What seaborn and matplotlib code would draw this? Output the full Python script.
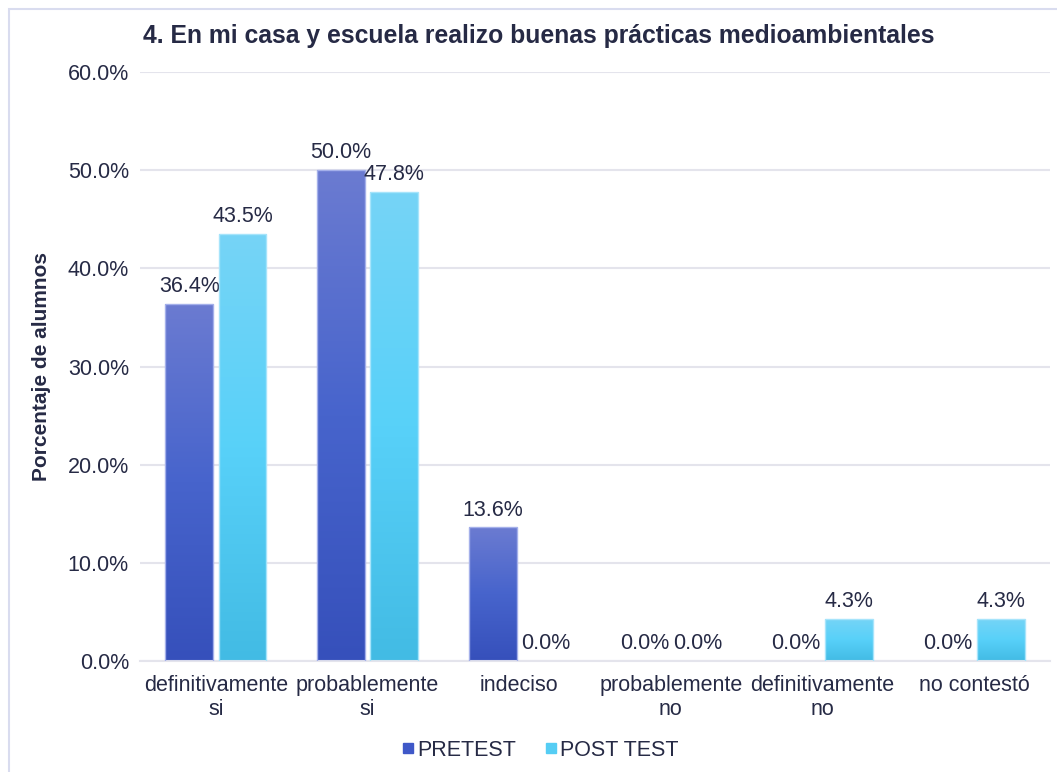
import numpy as np
import pandas as pd
import matplotlib
matplotlib.use("Agg")
import matplotlib.pyplot as plt
import seaborn as sns
from matplotlib.colors import LinearSegmentedColormap
from matplotlib.patches import Rectangle

# Data
categories = ["definitivamente\nsi", "probablemente\nsi", "indeciso",
              "probablemente\nno", "definitivamente\nno", "no contestó"]
pretest = [36.4, 50.0, 13.6, 0.0, 0.0, 0.0]
post_test = [43.5, 47.8, 0.0, 0.0, 4.3, 4.3]
series = ["PRETEST", "POST TEST"]

df = pd.DataFrame({
    "categoria": categories * 2,
    "valor": pretest + post_test,
    "grupo": [series[0]] * len(categories) + [series[1]] * len(categories),
})

sns.set_style("white")
plt.rcParams["font.family"] = ["Liberation Sans", "DejaVu Sans"]
text_color = "#262a45"

# gradient stops (top, middle, bottom) and legend colours
grad = {
    "PRETEST": ["#6b7bd1", "#4764cc", "#3650bb"],
    "POST TEST": ["#76d4f6", "#58d1f9", "#42bbe4"],
}
edge = {"PRETEST": "#a4b0ea", "POST TEST": "#a6e4fb"}
legend_col = {"PRETEST": "#3f58c8", "POST TEST": "#55cdf4"}

fig = plt.figure(figsize=(10.57, 7.72), dpi=100)
ax = fig.add_axes([0.1325, 0.1438, 0.861, 0.7629])

sns.barplot(data=df, x="categoria", y="valor", hue="grupo", order=categories,
            hue_order=series, palette=legend_col, width=0.7, gap=0.1,
            ax=ax, legend=False)

# replace flat fill with vertical gradient
for cont, name in zip(ax.containers, series):
    cmap = LinearSegmentedColormap.from_list(name, grad[name][::-1])
    g = np.linspace(0, 1, 256).reshape(-1, 1)
    for bar in cont:
        h = bar.get_height()
        x0 = bar.get_x()
        w = bar.get_width()
        bar.set_facecolor("none")
        bar.set_edgecolor("none")
        if h <= 0:
            continue
        im = ax.imshow(g, cmap=cmap, origin="lower", aspect="auto",
                       extent=[x0, x0 + w, 0, h], zorder=2)
        im.set_clip_path(bar)
        ax.add_patch(Rectangle((x0, 0), w, h, fill=False, edgecolor=edge[name],
                               lw=1, zorder=3))
    labels = [f"{v:.1f}%" for v in cont.datavalues]
    ax.bar_label(cont, labels=labels, padding=5, fontsize=15.5, color=text_color)

ax.set_xlim(-0.5, len(categories) - 0.5)
ax.set_ylim(0, 60)

# grid and axes styling
ax.set_yticks(np.arange(0, 61, 10))
ax.set_yticklabels([f"{t:.1f}%" for t in np.arange(0, 61, 10)])
ax.yaxis.grid(True, color="#e4e4ec", lw=1.5, zorder=0)
ax.set_axisbelow(True)
for s in ["top", "right", "left"]:
    ax.spines[s].set_visible(False)
ax.spines["bottom"].set_color("#e4e4ec")
ax.spines["bottom"].set_linewidth(1.5)
ax.tick_params(axis="both", length=0, labelsize=15.5, colors=text_color, pad=8)
ax.tick_params(axis="x", pad=10)

ax.set_xlabel("")
ax.set_ylabel("Porcentaje de alumnos", fontsize=15, fontweight="bold",
              color=text_color, labelpad=12)

fig.text(0.135, 0.953, "4. En mi casa y escuela realizo buenas prácticas medioambientales",
         fontsize=17.8, fontweight="bold", color=text_color, va="center")

# legend
handles = [plt.Line2D([], [], marker="s", ls="", color=legend_col[s], markersize=7)
           for s in series]
fig.legend(handles, series, loc="center", bbox_to_anchor=(0.51, 0.028), ncol=2,
           frameon=False, fontsize=15.5, handletextpad=0.05, handlelength=0.8,
           columnspacing=1.2, labelcolor=text_color)

# chart border (top and left visible)
fig.add_artist(Rectangle((9 / 1057, -0.05), 1.1, 1 - 9 / 772 + 0.05,
                         transform=fig.transFigure, fill=False,
                         edgecolor="#d9dcef", lw=1.5))

fig.savefig("out.png", dpi=100)
